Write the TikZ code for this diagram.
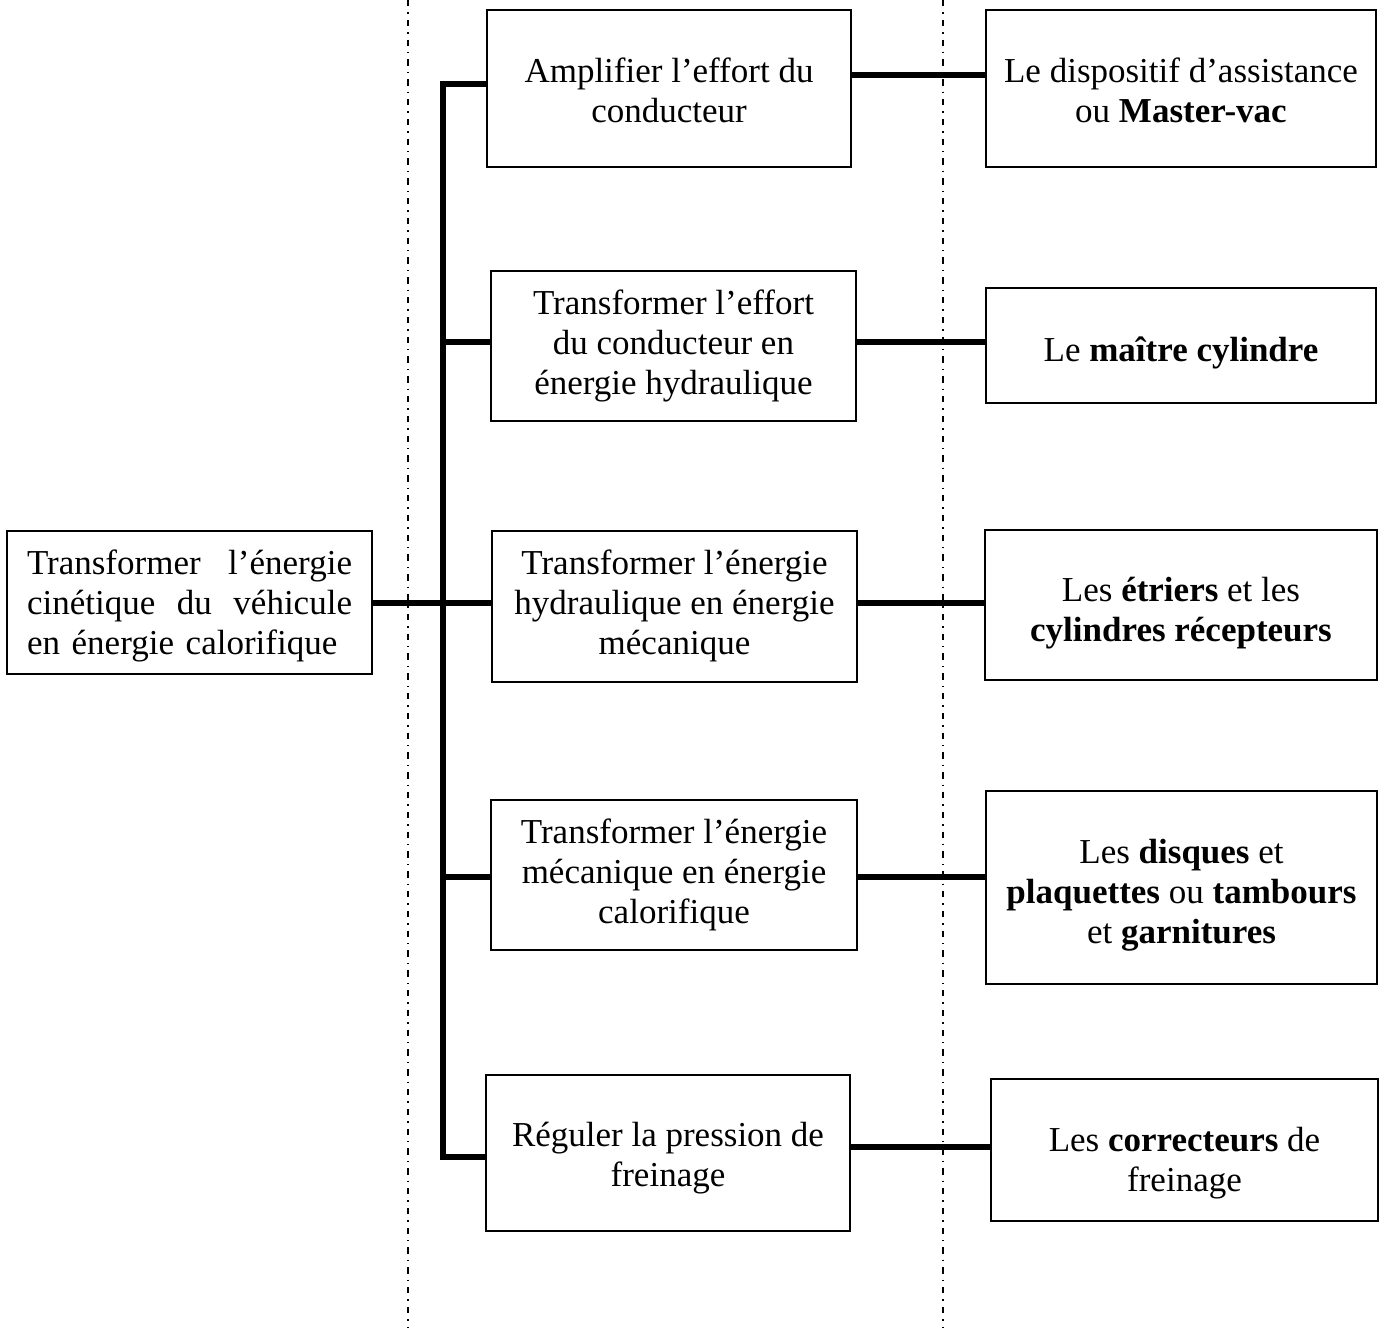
\documentclass[tikz,border=0pt]{standalone}
\usepackage{fontspec}
\setmainfont{Liberation Serif}
\begin{document}
\begin{tikzpicture}[x=0.5pt,y=-0.5pt,
  box/.style={draw, line width=1pt, inner sep=0pt},
  txt/.style={inner sep=0pt, align=center, font=\fontsize{17.5}{20}\selectfont},
  conn/.style={line width=3pt, line join=miter},
  axis/.style={line width=0.8pt, dash pattern=on 3.2pt off 3pt on 0.7pt off 3pt}]
\useasboundingbox (0,0) rectangle (1383,1328);
% dash-dot separators
\draw[axis] (408,0) -- (408,1328);
\draw[axis] (943,0) -- (943,1328);
% left box
\node[box, minimum width=182.5pt, minimum height=71.5pt] (L) at (189.5,602.5) {};
\node[txt, text width=162.5pt, align=left] (Lt) at ([yshift=-1.5pt]L.center)
  {\leavevmode\hbox to 162.5pt{Transformer\hfill l'énergie}\\\leavevmode\hbox to 162.5pt{cinétique\hfill du\hfill véhicule}\\en énergie calorifique};
% middle boxes
\node[box, minimum width=182pt, minimum height=78.5pt] (M1) at (669,88.5) {};
\node[txt] (M1t) at ([yshift=-1pt]M1.center) {Amplifier l'effort du\\conducteur};
\node[box, minimum width=182.5pt, minimum height=75pt] (M2) at (673.5,346) {};
\node[txt] (M2t) at (M2.center) {Transformer l'effort\\du conducteur en\\énergie hydraulique};
\node[box, minimum width=182.5pt, minimum height=75.5pt] (M3) at (674.5,606.5) {};
\node[txt] (M3t) at ([yshift=0.5pt]M3.center) {Transformer l'énergie\\hydraulique en énergie\\mécanique};
\node[box, minimum width=183pt, minimum height=75pt] (M4) at (674,875) {};
\node[txt] (M4t) at (M4.center) {Transformer l'énergie\\mécanique en énergie\\calorifique};
\node[box, minimum width=182pt, minimum height=78pt] (M5) at (668,1153) {};
\node[txt] (M5t) at ([yshift=-2.5pt]M5.center) {Réguler la pression de\\freinage};
% right boxes
\node[box, minimum width=195pt, minimum height=78.5pt] (R1) at (1181,88.5) {};
\node[txt] (R1t) at ([yshift=-1pt]R1.center) {Le dispositif d'assistance\\ou \textbf{Master-vac}};
\node[box, minimum width=195pt, minimum height=57.5pt] (R2) at (1181,345.5) {};
\node[txt] (R2t) at ([yshift=-3.5pt]R2.center) {Le \textbf{maître cylindre}};
\node[box, minimum width=196pt, minimum height=75pt] (R3) at (1181,605) {};
\node[txt] (R3t) at ([yshift=-4pt]R3.center) {Les \textbf{étriers} et les\\\textbf{cylindres récepteurs}};
\node[box, minimum width=195.5pt, minimum height=96.5pt] (R4) at (1181.5,887.5) {};
\node[txt] (R4t) at ([yshift=-4pt]R4.center) {Les \textbf{disques} et\\\textbf{plaquettes} ou \textbf{tambours}\\et \textbf{garnitures}};
\node[box, minimum width=193.5pt, minimum height=71pt] (R5) at (1184.5,1150) {};
\node[txt] (R5t) at ([yshift=-6.5pt]R5.center) {Les \textbf{correcteurs} de\\freinage};
% bus
\coordinate (bt) at (443,84);
\coordinate (b2) at (443,342);
\coordinate (b4) at (443,877);
\coordinate (bb) at (443,1157);
\draw[conn] (bt -| M1.west) -- (bt) -- (bb) -- (bb -| M5.west);
\draw[conn] (L.east) -- (L.east -| M3.west);
\draw[conn] (b2) -- (b2 -| M2.west);
\draw[conn] (b4) -- (b4 -| M4.west);
% middle to right
\draw[conn] (M1.east |- 0,75) -- (R1.west |- 0,75);
\draw[conn] (M2.east |- 0,342) -- (R2.west |- 0,342);
\draw[conn] (M3.east |- 0,603) -- (R3.west |- 0,603);
\draw[conn] (M4.east |- 0,877) -- (R4.west |- 0,877);
\draw[conn] (M5.east |- 0,1147) -- (R5.west |- 0,1147);
\end{tikzpicture}
\end{document}
